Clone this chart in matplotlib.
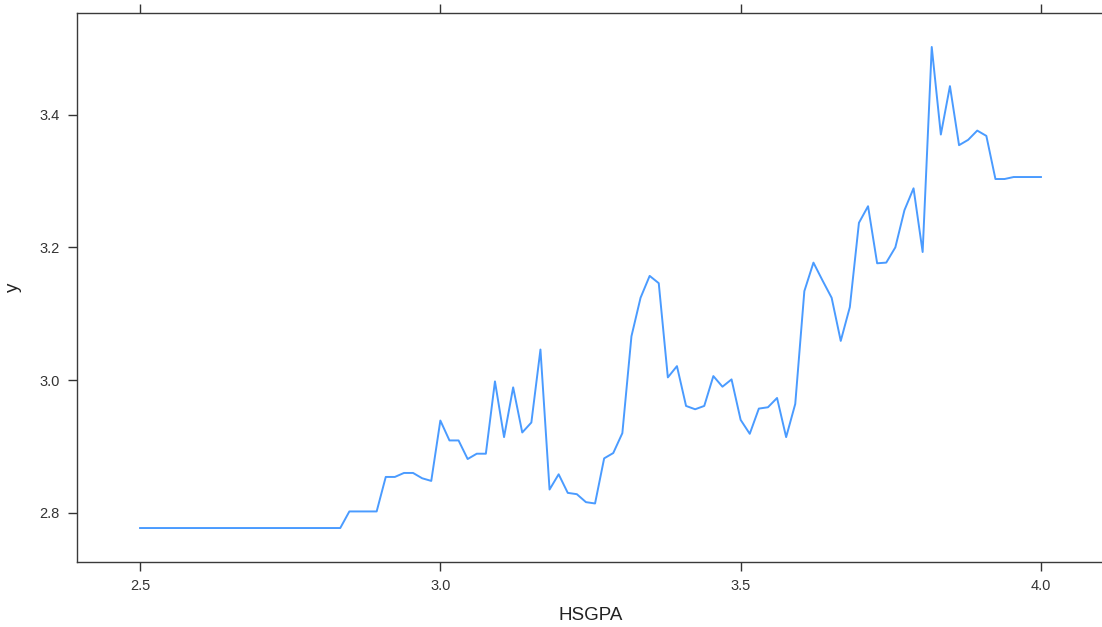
import numpy as np
import matplotlib
matplotlib.use('Agg')
import matplotlib.pyplot as plt

plt.rcParams['font.family'] = ['Liberation Sans', 'DejaVu Sans']

# Partial dependence of y on HSGPA, 100 grid points from 2.5 to 4.0
hsgpa = np.linspace(2.5, 4.0, 100)
y_hat = [
    2.777, 2.777, 2.777, 2.777, 2.777, 2.777, 2.777, 2.777, 2.777, 2.777,
    2.777, 2.777, 2.777, 2.777, 2.777, 2.777, 2.777, 2.777, 2.777, 2.777,
    2.777, 2.777, 2.777, 2.802, 2.802, 2.802, 2.802, 2.854, 2.854, 2.860,
    2.860, 2.852, 2.848, 2.939, 2.909, 2.909, 2.881, 2.889, 2.889, 2.998,
    2.914, 2.989, 2.921, 2.936, 3.046, 2.835, 2.858, 2.830, 2.828, 2.816,
    2.814, 2.882, 2.890, 2.920, 3.066, 3.124, 3.157, 3.146, 3.004, 3.021,
    2.961, 2.956, 2.961, 3.006, 2.990, 3.001, 2.940, 2.919, 2.957, 2.959,
    2.973, 2.914, 2.964, 3.134, 3.177, 3.150, 3.124, 3.059, 3.110, 3.237,
    3.262, 3.176, 3.177, 3.200, 3.256, 3.289, 3.193, 3.502, 3.370, 3.443,
    3.354, 3.362, 3.376, 3.368, 3.303, 3.303, 3.306, 3.306, 3.306, 3.306,
]
x_ticks = [2.5, 3.0, 3.5, 4.0]
y_ticks = [2.8, 3.0, 3.2, 3.4]

W, H = 1102, 627
fig = plt.figure(figsize=(W / 100, H / 100), dpi=100)
# box runs a little past the right edge of the canvas
ax = fig.add_axes([77 / W, (H - 561.7) / H, (1104 - 77) / W, (561.7 - 13.3) / H])

ax.plot(hsgpa, y_hat, color='#4a9bff', lw=1.4)

# lattice style padding (7% each side)
xr = 4.0 - 2.5
ax.set_xlim(2.5 - 0.07 * xr, 4.0 + 0.07 * xr)
yr = max(y_hat) - min(y_hat)
ax.set_ylim(min(y_hat) - 0.07 * yr, max(y_hat) + 0.07 * yr)

ax.set_xticks(x_ticks)
ax.set_xticklabels([f'{v:.1f}' for v in x_ticks])
ax.set_yticks(y_ticks)
ax.set_yticklabels([f'{v:.1f}' for v in y_ticks])
ax.tick_params(axis='both', direction='out', length=6.5, width=1.0,
               colors='#333333', labelsize=10.5, pad=6)
ax.tick_params(axis='x', top=True, labeltop=False)
ax.tick_params(axis='y', right=True, labelright=False)

for sp in ax.spines.values():
    sp.set_color('#3a3a3a')
    sp.set_linewidth(1.0)

ax.set_xlabel('HSGPA', fontsize=13.5, color='#222222', labelpad=10)
ax.set_ylabel('y', fontsize=13.5, color='#222222', va='center')
ax.yaxis.set_label_coords(-0.062, 0.5)

fig.savefig('out.png', dpi=100)
